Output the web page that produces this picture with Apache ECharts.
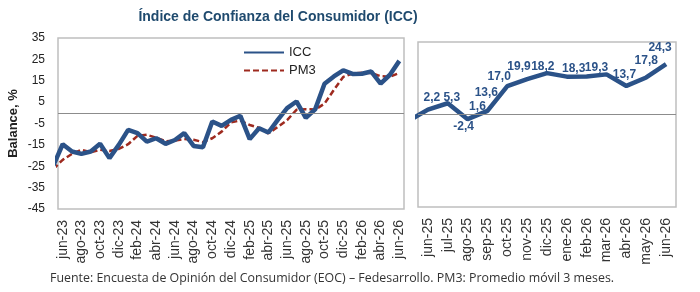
<!DOCTYPE html>
<html><head><meta charset="utf-8">
<script src="https://cdn.jsdelivr.net/npm/echarts@6/dist/echarts.min.js"></script>
<style>html,body{margin:0;padding:0;background:#fff}#c{width:700px;height:292px}</style>
</head><body><div id="c"></div>
<script>
// Months (may-23 precedes the visible window and is clipped at the left edge)
const months = ['may-23','jun-23','jul-23','ago-23','sep-23','oct-23','nov-23','dic-23',
  'ene-24','feb-24','mar-24','abr-24','may-24','jun-24','jul-24','ago-24','sep-24','oct-24','nov-24','dic-24',
  'ene-25','feb-25','mar-25','abr-25','may-25','jun-25','jul-25','ago-25','sep-25','oct-25','nov-25','dic-25',
  'ene-26','feb-26','mar-26','abr-26','may-26','jun-26'];
const icc = [-24.7,-14.7,-18.1,-19.2,-18.1,-14.5,-21.2,-15.0,
  -8.0,-9.5,-13.5,-11.9,-14.5,-12.7,-9.5,-15.5,-16.1,-4.1,-6.1,-3.3,
  -1.4,-12.3,-7.2,-9.2,-3.3,2.2,5.3,-2.4,1.6,13.6,17.0,19.9,
  18.2,18.3,19.3,13.7,17.8,24.3];
const pm3 = [-26.3,-22.0,-19.2,-17.3,-18.5,-17.3,-17.9,-16.9,
  -14.7,-10.8,-10.3,-11.6,-13.3,-13.0,-12.2,-12.6,-13.7,-11.9,-8.8,-4.5,
  -3.6,-5.7,-7.0,-9.6,-6.6,-3.4,1.4,1.7,1.5,4.3,10.7,16.8,
  18.4,18.8,18.6,17.1,16.9,18.6];
const yTicks = ['-45','-35','-25','-15','-5','5','15','25','35'];
const zoomStart = 25; // index of jun-25
const titleText = 'Índice de Confianza del Consumidor (ICC)';
const sourceText = 'Fuente: Encuesta de Opinión del Consumidor (EOC) – Fedesarrollo. PM3: Promedio móvil 3 meses.';
// label placement (style) for the zoomed chart, one per visible month
const labelShift = [[4,-12],[4,-6],[-4,8],[-10,-4],[-21,7],[-28,-2],[-28,-6],[-24,-10],[-13,-8],[-10,-7],[-2,-11],[0,-17],[-6,-16]];

const BLUE = '#2b5288', RED = '#9e2a1f';
const FONT = "'Liberation Sans', Arial, sans-serif";
const chart = echarts.init(document.getElementById('c'), null, {renderer:'canvas'});

const zeroLine = {silent:true, symbol:'none', label:{show:false},
  lineStyle:{color:'#8c8c8c', width:1, type:'solid'}, data:[{yAxis:0}]};

const leftIcc = icc.map((v,i)=>[i,v]);
const leftPm3 = pm3.map((v,i)=>[i,v]);
const rightIcc = icc.slice(zoomStart-1).map((v,k)=>{
  const i = zoomStart-1+k;
  const sh = labelShift[k-1];
  return {value:[i,v], label: sh ? {show:true, position:'inside', offset:sh} : {show:false}};
});

const catAxisBase = {type:'category', boundaryGap:true, axisLine:{show:false}, axisTick:{show:false},
  axisLabel:{rotate:90, fontSize:14, color:'#333', fontFamily:FONT, margin:11}};

chart.setOption({
  animation:false,
  backgroundColor:'#fff',
  title:[
    {text:titleText, left:278, top:10, textAlign:'center', padding:0,
     textStyle:{fontFamily:FONT, fontWeight:'bold', fontSize:14, color:'#1f4a6e'}},
    {text:sourceText, left:50, top:272, padding:0,
     textStyle:{fontFamily:"'Open Sans', 'Liberation Sans', sans-serif", fontWeight:'normal', fontSize:12.4, color:'#333'}}
  ],
  legend:{orient:'vertical', left:243, top:46, itemWidth:40, itemHeight:14, itemGap:5, padding:0,
    itemStyle:{opacity:0}, data:['ICC','PM3'], textStyle:{fontFamily:FONT, fontSize:13, color:'#222'}},
  grid:[
    {left:58, top:38, width:346, height:171, show:true, borderColor:'#bfbfbf', borderWidth:1.5, backgroundColor:'#fff'},
    {left:418, top:42, width:258, height:165, show:true, borderColor:'#bfbfbf', borderWidth:1.5, backgroundColor:'#fff'}
  ],
  xAxis:[
    Object.assign({}, catAxisBase, {gridIndex:0, data:months.slice(1), axisLabel:Object.assign({}, catAxisBase.axisLabel, {interval:1})}),
    {type:'value', gridIndex:0, min:0.5, max:months.length-0.5, show:false},
    Object.assign({}, catAxisBase, {gridIndex:1, data:months.slice(zoomStart), axisLabel:Object.assign({}, catAxisBase.axisLabel, {interval:0})}),
    {type:'value', gridIndex:1, min:zoomStart-0.5, max:months.length-0.5, show:false}
  ],
  yAxis:[
    {type:'value', gridIndex:0, position:'left', min:-45, max:35, axisLabel:{show:false}, axisLine:{show:false}, axisTick:{show:false}, splitLine:{show:false},
     name:'Balance, %', nameLocation:'middle', nameGap:38, nameRotate:90,
     nameTextStyle:{fontFamily:FONT, fontWeight:'bold', fontSize:13, color:'#222'}},
    {type:'category', gridIndex:0, position:'left', data:yTicks, boundaryGap:false, axisLine:{show:false}, axisTick:{show:false}, splitLine:{show:false},
     axisLabel:{fontSize:12, color:'#222', fontFamily:FONT, margin:13}},
    {type:'value', gridIndex:1, min:-45, max:35, show:false, splitLine:{show:false}}
  ],
  series:[
    {name:'ICC', type:'line', xAxisIndex:1, yAxisIndex:0, data:leftIcc, symbol:'none', clip:true,
     lineStyle:{color:BLUE, width:4.5}, itemStyle:{color:BLUE}, markLine:zeroLine, z:3},
    {name:'PM3', type:'line', xAxisIndex:1, yAxisIndex:0, data:leftPm3, symbol:'none', clip:true,
     lineStyle:{color:RED, width:2.5, type:[6,3]}, itemStyle:{color:RED}, z:2},
    {name:'ICC jun-25 a jun-26', type:'line', xAxisIndex:3, yAxisIndex:2, data:rightIcc, symbol:'circle', symbolSize:0, showSymbol:true, clip:true,
     lineStyle:{color:BLUE, width:4.5}, itemStyle:{color:BLUE}, markLine:zeroLine,
     label:{show:true, fontFamily:FONT, fontWeight:'bold', fontSize:12, color:BLUE,
       formatter:p=>p.value[1].toFixed(1).replace('.',',')}}
  ]
});
</script></body></html>
